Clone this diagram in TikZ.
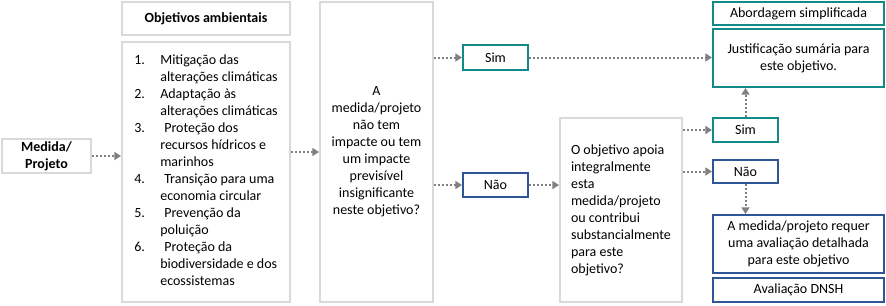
\documentclass[tikz,border=0pt]{standalone}
\usepackage{fontspec}
\setmainfont{Carlito}
\usetikzlibrary{arrows.meta, positioning}
\definecolor{cinza}{RGB}{217,217,217}
\definecolor{verdeazul}{RGB}{20,138,136}
\definecolor{azul}{RGB}{47,85,151}
\definecolor{cinzaseta}{RGB}{128,128,128}

\begin{document}
\begin{tikzpicture}[
  x=0.75pt, y=-0.75pt,
  font=\fontsize{10.5}{12.75}\selectfont,
  tam/.style 2 args={minimum width=#1*0.75pt, minimum height=#2*0.75pt},
  caixa/.style={draw=cinza, line width=1.5pt, rectangle, align=center, inner sep=0pt},
  caixasim/.style={draw=verdeazul, line width=1.5pt, rectangle, align=center, inner sep=0pt},
  caixanao/.style={draw=azul, line width=1.5pt, rectangle, align=center, inner sep=0pt},
  seta/.style={draw=cinzaseta, line width=1.5pt, dash pattern=on 1.5pt off 1.5pt, -{Triangle[length=5pt, width=6pt]}}
]
  \useasboundingbox (0,0) rectangle (886,305);

  % Entrada e objetivos
  \node[caixa, tam={89}{34}, font=\fontsize{10.5}{12.75}\selectfont\bfseries] (medida) at (46.5,156) {Medida/\\Projeto};
  \node[caixa, tam={168}{33}, font=\fontsize{10.5}{12.75}\selectfont\bfseries] (objtitulo) at (206,18.5) {Objetivos ambientais};
  \node[caixa, tam={168}{260}] (objlista) at (206,172) {%
    \begin{tabular}{@{}p{19.5pt}@{}l@{}}
    1. & Mitigação das\\
       & alterações climáticas\\
    2. & Adaptação às\\
       & alterações climáticas\\
    3. & \hspace{3pt}Proteção dos\\
       & recursos hídricos e\\
       & marinhos\\
    4. & \hspace{3pt}Transição para uma\\
       & economia circular\\
    5. & \hspace{3pt}Prevenção da\\
       & poluição\\
    6. & \hspace{3pt}Proteção da\\
       & biodiversidade e dos\\
       & ecossistemas
    \end{tabular}};

  % Perguntas
  \node[caixa, tam={113}{300}] (pergunta1) at (376.5,152) {A\\medida/projeto\\não tem\\impacte ou tem\\um impacte\\previsível\\insignificante\\neste objetivo?};
  \node[caixasim, tam={65}{25}] (sim1) at (495.5,57.5) {Sim};
  \node[caixanao, tam={65}{24}] (nao1) at (495.5,185) {Não};
  \node[caixa, tam={122}{184}, align=left] (pergunta2) at (621,210) {O objetivo apoia\\integralmente\\esta\\medida/projeto\\ou contribui\\substancialmente\\para este\\objetivo?};
  \node[caixasim, tam={65}{24}] (sim2) at (745.5,130) {Sim};
  \node[caixanao, tam={65}{23}] (nao2) at (745.5,171.5) {Não};

  % Resultados
  \node[caixasim, tam={171}{23}] (abordagem) at (798.5,13.5) {Abordagem simplificada};
  \node[caixasim, tam={171}{58}] (justif) at (798.5,58) {Justificação sumária para\\este objetivo.};
  \node[caixanao, tam={171}{58}] (requer) at (798.5,244) {A medida/projeto requer\\uma avaliação detalhada\\para este objetivo};
  \node[caixanao, tam={171}{24}] (dnsh) at (798.5,290) {Avaliação DNSH};

  % Ligações
  \draw[seta] (medida.east) -- (medida.east -| objlista.west);
  \draw[seta] (pergunta1.west -| objlista.east) -- (pergunta1.west);
  \draw[seta] (sim1.west -| pergunta1.east) -- (sim1.west);
  \draw[seta] (nao1.west -| pergunta1.east) -- (nao1.west);
  \draw[seta] (sim1.east) -- (sim1.east -| justif.west);
  \draw[seta] (nao1.east) -- (nao1.east -| pergunta2.west);
  \draw[seta] (sim2.west -| pergunta2.east) -- (sim2.west);
  \draw[seta] (nao2.west -| pergunta2.east) -- (nao2.west);
  \draw[seta] (sim2.north) -- (sim2.north |- justif.south);
  \draw[seta] (nao2.south) -- (nao2.south |- requer.north);

\end{tikzpicture}
\end{document}
